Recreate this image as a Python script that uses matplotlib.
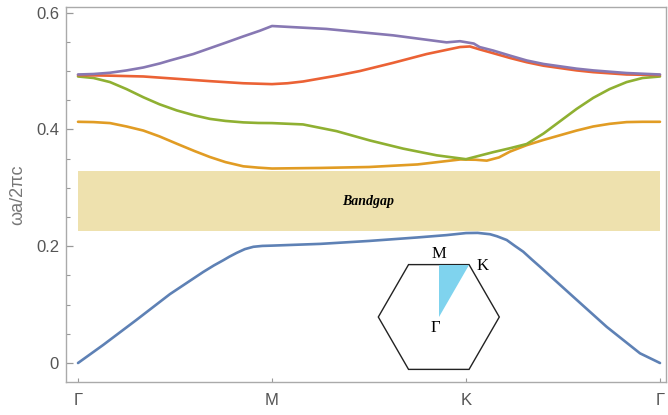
import matplotlib
matplotlib.use('Agg')
import matplotlib.pyplot as plt
import numpy as np
from matplotlib.patches import Polygon, Rectangle

# path positions: Gamma=0, M=1, K=2, Gamma=3
sym_pos = [0, 1, 2, 3]
sym_labels = ['Γ', 'M', 'K', 'Γ']

# band 1 (blue)
k1 = [0, 0.13, 0.30, 0.474, 0.646, 0.70, 0.749, 0.78, 0.818, 0.86, 0.904, 0.95, 1.0, 1.25, 1.5,
      1.75, 1.9, 2.0, 2.06, 2.124, 2.16, 2.21, 2.25, 2.295, 2.34, 2.381, 2.553, 2.725, 2.897, 3.0]
w1 = [0, 0.031, 0.0735, 0.118, 0.156, 0.167, 0.176, 0.182, 0.1886, 0.195, 0.199, 0.2005, 0.201,
      0.204, 0.209, 0.215, 0.219, 0.2225, 0.2228, 0.2205, 0.217, 0.2106, 0.201, 0.1906, 0.177,
      0.165, 0.1134, 0.062, 0.0166, 0]

# band 2 (orange)
k2 = [0, 0.08, 0.165, 0.25, 0.337, 0.42, 0.509, 0.6, 0.68, 0.76, 0.852, 0.93, 1.0, 1.25, 1.5,
      1.75, 1.97, 2.05, 2.107, 2.17, 2.227, 2.313, 2.4, 2.485, 2.57, 2.656, 2.74, 2.828, 2.91, 3.0]
w2 = [0.413, 0.4125, 0.4108, 0.405, 0.398, 0.388, 0.3755, 0.363, 0.3527, 0.344, 0.3368, 0.3345,
      0.333, 0.334, 0.3356, 0.340, 0.3485, 0.348, 0.3465, 0.352, 0.362, 0.373, 0.382, 0.390,
      0.398, 0.405, 0.4095, 0.4125, 0.413, 0.413]

# band 3 (green)
k3 = [0, 0.08, 0.165, 0.25, 0.337, 0.42, 0.509, 0.6, 0.68, 0.76, 0.852, 0.93, 1.0, 1.16, 1.333,
      1.505, 1.677, 1.849, 2.0, 2.07, 2.14, 2.23, 2.313, 2.4, 2.485, 2.57, 2.656, 2.74, 2.828,
      2.91, 3.0]
w3 = [0.4906, 0.488, 0.481, 0.469, 0.455, 0.443, 0.4325, 0.424, 0.418, 0.4145, 0.412, 0.411,
      0.4108, 0.4085, 0.397, 0.381, 0.367, 0.3556, 0.349, 0.355, 0.361, 0.368, 0.375, 0.393,
      0.414, 0.435, 0.454, 0.469, 0.481, 0.488, 0.4906]

# band 4 (red)
k4 = [0, 0.165, 0.337, 0.509, 0.68, 0.852, 1.0, 1.08, 1.16, 1.333, 1.454, 1.625, 1.797, 1.969,
      2.02, 2.07, 2.14, 2.23, 2.313, 2.4, 2.485, 2.57, 2.656, 2.828, 3.0]
w4 = [0.493, 0.492, 0.4906, 0.4866, 0.4826, 0.479, 0.4775, 0.479, 0.482, 0.492, 0.500, 0.514,
      0.529, 0.541, 0.542, 0.537, 0.5305, 0.522, 0.515, 0.509, 0.505, 0.501, 0.498, 0.494, 0.493]

# band 5 (purple)
k5 = [0, 0.079, 0.165, 0.251, 0.337, 0.423, 0.474, 0.594, 0.68, 0.766, 0.85, 0.938, 1.0, 1.28,
      1.625, 1.9, 1.969, 2.04, 2.07, 2.14, 2.23, 2.313, 2.4, 2.485, 2.57, 2.656, 2.828, 3.0]
w5 = [0.494, 0.4948, 0.497, 0.501, 0.506, 0.513, 0.518, 0.529, 0.539, 0.549, 0.559, 0.569, 0.577,
      0.572, 0.561, 0.549, 0.551, 0.547, 0.541, 0.535, 0.526, 0.518, 0.512, 0.508, 0.504, 0.501,
      0.4965, 0.494]

gap_low, gap_high = 0.226, 0.3287

band_colors = ['#5E81B5', '#E19C24', '#8FB032', '#EB6235', '#8778B3']

fig = plt.figure(figsize=(6.68, 4.15), dpi=100)
ax = fig.add_axes([66 / 668, 1 - 382 / 415, 600 / 668, 374.5 / 415])

ax.add_patch(Rectangle((0, gap_low), 3, gap_high - gap_low, facecolor='#EEE1AE', edgecolor='none', zorder=1))
ax.text(1.495, (gap_low + gap_high) / 2, 'Bandgap', family='Liberation Serif', weight='bold',
        style='italic', fontsize=10, ha='center', va='center', zorder=3)

for k, w, c in zip([k1, k2, k3, k4, k5], [w1, w2, w3, w4, w5], band_colors):
    ax.plot(k, w, color=c, lw=1.9, zorder=2, solid_joinstyle='round', solid_capstyle='round')

ax.set_xlim(-0.0619, 3.031)
ax.set_ylim(-0.0325, 0.6087)
ax.set_xticks(sym_pos)
ax.set_xticklabels(sym_labels)
ax.set_yticks([0, 0.2, 0.4, 0.6])
ax.set_yticklabels(['0', '0.2', '0.4', '0.6'])
ax.set_yticks(np.arange(0, 0.61, 0.05), minor=True)
ax.tick_params(axis='both', which='both', direction='in', color='#999999', labelcolor='#555555',
               labelsize=12, top=False, right=False)
ax.tick_params(axis='y', which='major', length=5, width=0.9, pad=5)
ax.tick_params(axis='y', which='minor', length=3, width=0.8)
ax.tick_params(axis='x', which='major', length=3, width=0.8, pad=8)
for lab in ax.get_xticklabels() + ax.get_yticklabels():
    lab.set_family('Liberation Sans')
for sp in ax.spines.values():
    sp.set_color('#aaaaaa')
    sp.set_linewidth(1.0)

fig.text(18 / 668, 1 - 195 / 415, 'ωa/2πc', rotation=90, ha='center', va='center',
         fontsize=13, color='#777777', family='Liberation Sans')

# Brillouin zone inset
ins = fig.add_axes([370 / 668, 1 - 380 / 415, 140 / 668, 130 / 415])
ins.set_xlim(-68.8 / 60.5, 71.2 / 60.5)
ins.set_ylim(-63 / 60.5, 67 / 60.5)
ins.axis('off')
ang = np.deg2rad(np.arange(0, 360, 60))
hexagon = Polygon(np.c_[np.cos(ang), np.sin(ang)], closed=True, fill=False, edgecolor='#222222', lw=1.0)
ins.add_patch(hexagon)
h = np.sqrt(3) / 2
ins.add_patch(Polygon([[0, 0], [0, h], [0.5, h]], closed=True, facecolor='#7FD3EE', edgecolor='none'))
ins.text(0, h + 0.05, 'M', family='Liberation Serif', fontsize=12, ha='center', va='bottom')
ins.text(0.62, h - 0.02, 'K', family='Liberation Serif', fontsize=12, ha='left', va='center')
ins.text(-0.05, -0.05, 'Γ', family='Liberation Serif', fontsize=12, ha='center', va='top')

fig.savefig('out.png', dpi=100)
